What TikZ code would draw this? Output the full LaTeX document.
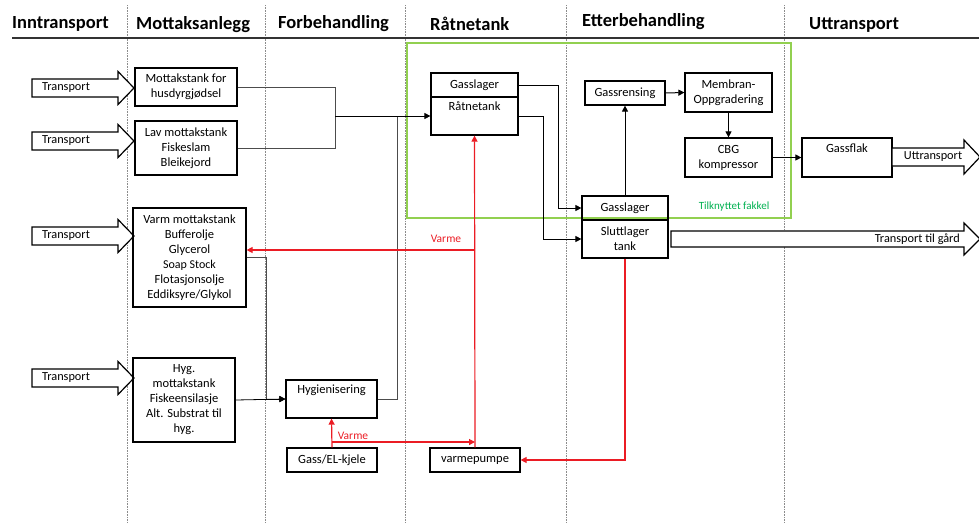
\documentclass[tikz,border=0pt]{standalone}
\usepackage{fontspec}
\setmainfont{Carlito}
\usetikzlibrary{arrows.meta}
\definecolor{varmered}{RGB}{235,28,36}
\definecolor{fakkelgreen}{RGB}{146,208,80}
\definecolor{fakkeltext}{RGB}{0,176,80}
\tikzset{
    tankbox/.style={draw,line width=1.2pt,align=center,inner sep=1pt,font=\fontsize{12.5}{15}\selectfont},
    feedline/.style={line width=0.8pt,black!70},
    heatline/.style={line width=1.2pt,varmered},
    pilspiss/.style={-{Triangle[length=6pt,width=6pt]}},
    hdr/.style={font=\fontsize{18.5}{22}\selectfont\bfseries,anchor=west,inner sep=0pt},
    kolonne/.style={densely dotted,black!45,line width=0.6pt},
    blockpil/.style={draw,line width=1.2pt,fill=white,line join=miter},
    piltext/.style={font=\fontsize{12.3}{14}\selectfont,inner sep=0pt},
    varmetext/.style={font=\fontsize{11.5}{13}\selectfont,text=varmered,inner sep=0pt},
}

\begin{document}
\begin{tikzpicture}[x=1pt,y=-1pt]
    \useasboundingbox (0,0) rectangle (979,523);
    % kolonner
    \foreach \x in {127,265,405,566,784}
        \draw[kolonne] (\x,5) -- (\x,523);
    \draw[line width=1.3pt,black!80] (12,38) -- (979,38);
    \node[hdr] (h1) at (12,24) {Inntransport};
    \node[hdr] (h2) at (136,25) {Mottaksanlegg};
    \node[hdr] (h3) at (278,24) {Forbehandling};
    \node[hdr] (h4) at (430,24) {Råtnetank};
    \node[hdr] (h5) at (582,22) {Etterbehandling};
    \node[hdr] (h6) at (809,25) {Uttransport};

    % fakkel
    \draw[fakkelgreen,line width=1.2pt] (407,43) rectangle (791,218);
    \node[font=\fontsize{11}{13}\selectfont,text=fakkeltext,inner sep=0pt] (fakkel) at (734,207) {Tilknyttet fakkel};

    % inntransport
    \foreach \y/\n in {88/1,141/2,236/3,378/4} {
        \draw[blockpil] (32,{\y-9}) -- (118,{\y-9}) -- (118,{\y-16.5}) -- (134,\y)
            -- (118,{\y+16.5}) -- (118,{\y+9}) -- (32,{\y+9}) -- cycle;
        \node[piltext] (tr\n) at (66,\y) {Transport};
    }

    % mottak
    \node[tankbox,minimum width=102pt,minimum height=38pt] (husdyr) at (186,87) {Mottakstank for\\husdyrgjødsel};
    \node[tankbox,minimum width=102pt,minimum height=54pt] (lav) at (186,148) {Lav mottakstank\\Fiskeslam\\Bleikejord};
    \node[tankbox,minimum width=113pt,minimum height=99pt] (varm) at (189.5,257.5) {Varm mottakstank\\Bufferolje\\Glycerol\\{\fontsize{12}{15}\selectfont Soap Stock}\\Flotasjonsolje\\Eddiksyre/Glykol};
    \node[tankbox,minimum width=102pt,minimum height=84pt] (hygmott) at (184,400) {Hyg.\\mottakstank\\Fiskeensilasje\\Alt. Substrat til\\hyg.};

    % forbehandling
    \node[tankbox,minimum width=91pt,minimum height=38pt] (hyg) at (331.5,399) {Hygienisering\\\strut};
    \node[tankbox,minimum width=90pt,minimum height=24pt] (kjele) at (332,460) {Gass/EL-kjele};

    % raatnetank
    \node[tankbox,minimum width=87pt,minimum height=24pt] (gass1) at (474.5,85) {Gasslager};
    \node[tankbox,minimum width=87pt,minimum height=38pt] (raatne) at (474.5,116) {Råtnetank\\\strut};
    \node[tankbox,minimum width=90pt,minimum height=24pt] (vp) at (475,460) {varmepumpe};

    % etterbehandling
    \node[tankbox,minimum width=80pt,minimum height=24pt] (rens) at (625,93) {Gassrensing};
    \node[tankbox,minimum width=87pt,minimum height=39pt] (membran) at (728.5,92.5) {Membran-\\Oppgradering};
    \node[tankbox,minimum width=87pt,minimum height=39pt] (cbg) at (728.5,157.5) {CBG\\kompressor};
    \node[tankbox,minimum width=86pt,minimum height=24pt] (gass2) at (625,208) {Gasslager};
    \node[tankbox,minimum width=86pt,minimum height=38pt] (slutt) at (625,239) {Sluttlager\\tank};

    % uttransport
    \node[tankbox,minimum width=90pt,minimum height=39pt] (flak) at (847,157.5) {Gassflak\\\strut};
    \draw[blockpil] (892,148) -- (964,148) -- (964,140) -- (980,157)
        -- (964,174) -- (964,166) -- (892,166) -- cycle;
    \node[piltext] (uttr) at (933,157) {Uttransport};
    \draw[blockpil] (671,231) -- (964,231) -- (964,223) -- (980,239)
        -- (964,255) -- (964,247) -- (671,247) -- cycle;
    \node[piltext,anchor=east] (gaard) at (960,239) {Transport til gård};

    % substrat
    \coordinate (samle) at (335,116);
    \coordinate (hygopp) at (397,116);
    \coordinate (varmned) at (266,399);
    \draw[feedline] (husdyr.east) -| (samle);
    \draw[feedline] (lav.east) -| (samle);
    \draw[feedline] (hyg.east) -| (hygopp);
    \draw[feedline,black,pilspiss] (samle) -- (raatne.west);
    \draw[feedline] (varm.east) -| (varmned);
    \draw[feedline,black,pilspiss] (varmned) -- (hyg.west);
    \draw[feedline,black,pilspiss] (hygmott.east) -- (hyg.west);

    % gass
    \draw[line width=1pt,pilspiss] (gass1.east) -- ++(40,0) |- (gass2.west);
    \draw[line width=1pt,pilspiss] (raatne.east) -- ++(25,0) |- (slutt.west);
    \draw[line width=1pt,pilspiss] (gass2.north) -- (rens.south);
    \draw[line width=1pt,pilspiss] (rens.east) -- (membran.west);
    \draw[line width=1pt,pilspiss] (membran.south) -- (cbg.north);
    \draw[line width=1pt,pilspiss] (cbg.east) -- (flak.west);

    % varme
    \coordinate (varme1) at (475,250);
    \coordinate (varme2) at (332,442);
    \draw[heatline,pilspiss] (slutt.south) |- (vp.east);
    \draw[heatline,pilspiss] (vp.north) -- (raatne.south);
    \draw[heatline,pilspiss] (varme1) -- (varm.east |- varme1);
    \draw[heatline,pilspiss] (kjele.north) -- (hyg.south);
    \draw[heatline,pilspiss] (varme2) -- (vp.north |- varme2);
    \node[varmetext] (vl1) at (446,239) {Varme};
    \node[varmetext] (vl2) at (353,436) {Varme};
\end{tikzpicture}
\end{document}
